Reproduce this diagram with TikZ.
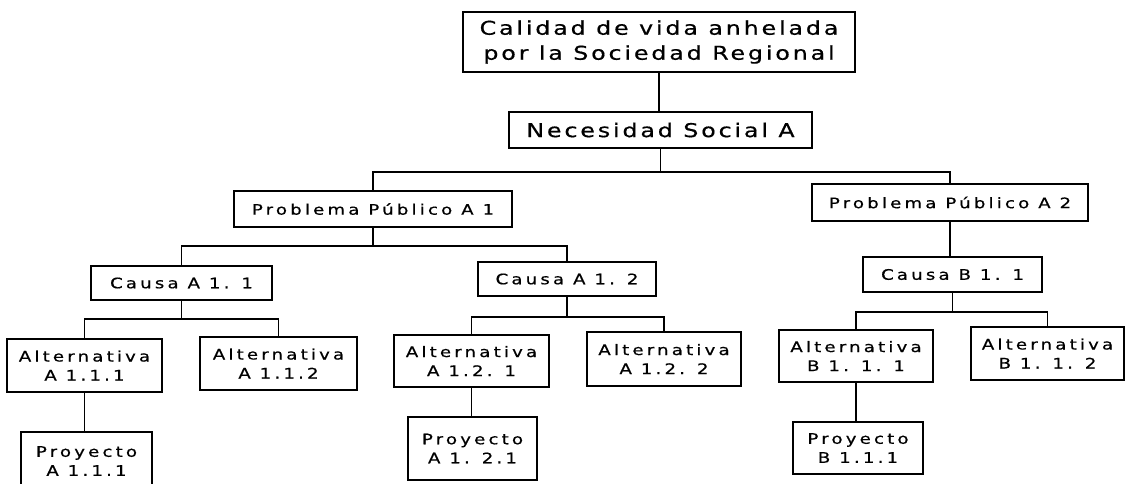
\documentclass[tikz,border=0pt]{standalone}
\usepackage{fontspec}
\setmainfont{DejaVu Sans}
\newfontfamily\bigfont[FakeStretch=1.25,LetterSpace=15,FakeBold=0.6]{DejaVu Sans}
\newfontfamily\smallfont[FakeStretch=1.25,LetterSpace=22,FakeBold=0.6]{DejaVu Sans}
\begin{document}
\begin{tikzpicture}[x=1pt,y=-1pt,
  box/.style={draw=black, line width=1.5pt, inner sep=0pt, align=center, text=black},
  bigtext/.style={font=\bigfont\fontsize{19}{25}\selectfont},
  smalltext/.style={font=\smallfont\fontsize{14.5}{19}\selectfont},
  conn/.style={draw=black, line width=1.5pt}]
\useasboundingbox (0,0) rectangle (1126,484);
\clip (0,0) rectangle (1126,484);
% nodes
\node[box,bigtext,minimum width=392pt,minimum height=60pt] (top) at (659,42) {Calidad de vida anhelada\\por la Sociedad Regional};
\node[box,bigtext,minimum width=303pt,minimum height=36pt] (nec) at (660.5,130) {Necesidad Social A};
\node[box,smalltext,minimum width=278pt,minimum height=36pt] (pa1) at (373,209) {Problema Público A 1};
\node[box,smalltext,minimum width=276pt,minimum height=37pt] (pa2) at (950,202.5) {Problema Público A 2};
\node[box,smalltext,minimum width=181pt,minimum height=34pt] (ca11) at (181.5,283) {Causa A 1. 1};
\node[box,smalltext,minimum width=178pt,minimum height=34pt] (ca12) at (567,279) {Causa A 1. 2};
\node[box,smalltext,minimum width=179pt,minimum height=35pt] (cb11) at (952.5,274.5) {Causa B 1. 1};
\node[box,smalltext,minimum width=155pt,minimum height=53pt] (alt111) at (84.5,365.5) {Alternativa\\A 1.1.1};
\node[box,smalltext,minimum width=157pt,minimum height=53pt] (alt112) at (278.5,363.5) {Alternativa\\A 1.1.2};
\node[box,smalltext,minimum width=155pt,minimum height=52pt] (alt121) at (471.5,361) {Alternativa\\A 1.2. 1};
\node[box,smalltext,minimum width=154pt,minimum height=54pt] (alt122) at (664,359) {Alternativa\\A 1.2. 2};
\node[box,smalltext,minimum width=154pt,minimum height=52pt] (altb111) at (856,356) {Alternativa\\B 1. 1. 1};
\node[box,smalltext,minimum width=153pt,minimum height=53pt] (altb112) at (1047.5,353.5) {Alternativa\\B 1. 1. 2};
\node[box,smalltext,minimum width=131pt,minimum height=58pt] (pr111) at (86.5,461) {Proyecto\\A 1.1.1};
\node[box,smalltext,minimum width=129pt,minimum height=63pt] (pr121) at (472.5,448.5) {Proyecto\\A 1. 2.1};
\node[box,smalltext,minimum width=130pt,minimum height=52pt] (prb111) at (858,448) {Proyecto\\B 1.1.1};
% bus coordinates
\coordinate (bn) at (0,172);
\coordinate (bp1) at (0,246);
\coordinate (bc11) at (0,319);
\coordinate (bc12) at (0,317);
\coordinate (bcb) at (0,312);
% connectors
\draw[conn] (top.south) -- (top.south |- nec.north);
\draw[conn] (nec.south) -- (nec.south |- bn);
\draw[conn] (pa1.north) -- (pa1.north |- bn) -- (pa2.north |- bn) -- (pa2.north);
\draw[conn] (pa1.south) -- (pa1.south |- bp1);
\draw[conn] (ca11.north) -- (ca11.north |- bp1) -- (ca12.north |- bp1) -- (ca12.north);
\draw[conn] (ca11.south) -- (ca11.south |- bc11);
\draw[conn] (alt111.north) -- (alt111.north |- bc11) -- (alt112.north |- bc11) -- (alt112.north);
\draw[conn] (ca12.south) -- (ca12.south |- bc12);
\draw[conn] (alt121.north) -- (alt121.north |- bc12) -- (alt122.north |- bc12) -- (alt122.north);
\draw[conn] (pa2.south) -- (pa2.south |- cb11.north);
\draw[conn] (cb11.south) -- (cb11.south |- bcb);
\draw[conn] (altb111.north) -- (altb111.north |- bcb) -- (altb112.north |- bcb) -- (altb112.north);
\draw[conn] (alt111.south) -- (alt111.south |- pr111.north);
\draw[conn] (alt121.south) -- (alt121.south |- pr121.north);
\draw[conn] (altb111.south) -- (altb111.south |- prb111.north);
\end{tikzpicture}
\end{document}
